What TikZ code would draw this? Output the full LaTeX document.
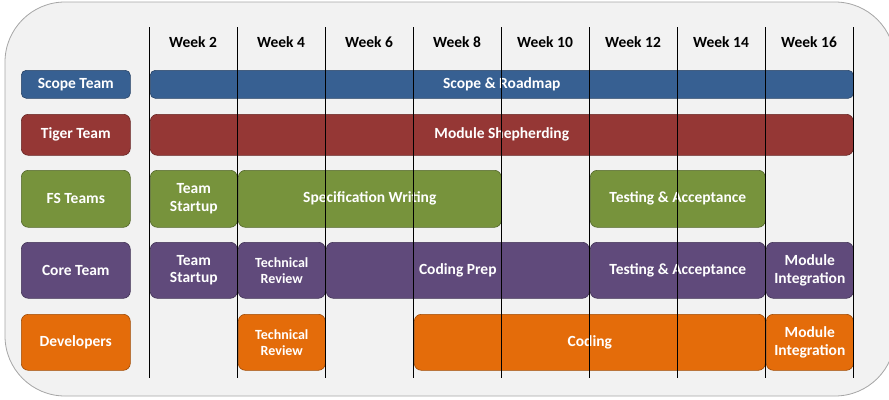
\documentclass[tikz,border=0pt]{standalone}
\usepackage{fontspec}
\setmainfont{Carlito}
\definecolor{cblue}{HTML}{376092}
\definecolor{cred}{HTML}{953735}
\definecolor{cgreen}{HTML}{77933C}
\definecolor{cpurple}{HTML}{604A7B}
\definecolor{corange}{HTML}{E46C0A}
\definecolor{cbg}{HTML}{F2F2F2}
\tikzset{
  bar/.style={rounded corners=7pt, draw=#1!70!black, fill=#1, text=white,
    font=\bfseries\fontsize{15.5}{17.5}\selectfont, align=center, inner sep=0pt,
    anchor=north west, line width=0.6pt},
  small/.style={font=\bfseries\fontsize{14}{16}\selectfont},
  week/.style={font=\bfseries\fontsize{15.5}{17}\selectfont, text=black, inner sep=0pt},
  grid/.style={draw=black, line width=0.8pt}
}
\begin{document}
\begin{tikzpicture}[x=1pt,y=-1pt]
\useasboundingbox (0,0) rectangle (889,399);
\begin{scope}
\clip (0,0) rectangle (889,399);
\draw[fill=cbg, draw=black!35, line width=0.8pt, rounded corners=60pt] (5,2) rectangle (895,396);
\end{scope}
% week headers
\foreach \w [count=\i from 0] in {2,4,6,8,10,12,14,16}{
  \node[week] (w\w) at (193+88*\i,42) {Week \w};
}
% row labels
\node[bar=cblue, rounded corners=5pt, minimum width=109pt, minimum height=28pt] (lscope) at (21,70) {\raisebox{-1pt}{Scope Team}};
\node[bar=cred, minimum width=109pt, minimum height=41pt] (ltiger) at (21,114) {\raisebox{-1pt}{Tiger Team}};
\node[bar=cgreen, minimum width=109pt, minimum height=57pt] (lfs) at (21,170) {\raisebox{-1pt}{FS Teams}};
\node[bar=cpurple, minimum width=109pt, minimum height=56pt] (lcore) at (21,242) {\raisebox{-1pt}{Core Team}};
\node[bar=corange, minimum width=109pt, minimum height=56pt] (ldev) at (21,314) {\raisebox{-1pt}{Developers}};
% scope
\node[bar=cblue, rounded corners=5pt, minimum width=703pt, minimum height=28pt] (scope) at (150,70) {\raisebox{-1pt}{Scope \& Roadmap}};
% tiger
\node[bar=cred, minimum width=703pt, minimum height=41pt] (tiger) at (150,114) {\raisebox{-1pt}{Module Shepherding}};
% fs
\node[bar=cgreen, minimum width=87pt, minimum height=57pt] (fs1) at (150,170) {Team\\Startup};
\node[bar=cgreen, minimum width=263pt, minimum height=57pt] (fs2) at (238,170) {\raisebox{-1pt}{Specification Writing}};
\node[bar=cgreen, minimum width=175pt, minimum height=57pt] (fs3) at (590,170) {\raisebox{-1pt}{Testing \& Acceptance}};
% core
\node[bar=cpurple, minimum width=87pt, minimum height=56pt] (c1) at (150,242) {Team\\Startup};
\node[bar=cpurple, small, minimum width=87pt, minimum height=56pt] (c2) at (238,242) {Technical\\Review};
\node[bar=cpurple, minimum width=263pt, minimum height=56pt] (c3) at (326,242) {\raisebox{-1pt}{Coding Prep}};
\node[bar=cpurple, minimum width=175pt, minimum height=56pt] (c4) at (590,242) {\raisebox{-1pt}{Testing \& Acceptance}};
\node[bar=cpurple, minimum width=87pt, minimum height=56pt] (c5) at (766,242) {Module\\Integration};
% developers
\node[bar=corange, small, minimum width=87pt, minimum height=56pt] (d1) at (238,314) {Technical\\Review};
\node[bar=corange, minimum width=351pt, minimum height=56pt] (d2) at (414,314) {\raisebox{-1pt}{Coding}};
\node[bar=corange, minimum width=87pt, minimum height=56pt] (d3) at (766,314) {Module\\Integration};
% grid lines
\foreach \i in {0,...,8}{
  \coordinate (gt\i) at (149.5+88*\i,27);
  \coordinate (gb\i) at (149.5+88*\i,378);
  \draw[grid] (gt\i) -- (gb\i);
}
\end{tikzpicture}
\end{document}
